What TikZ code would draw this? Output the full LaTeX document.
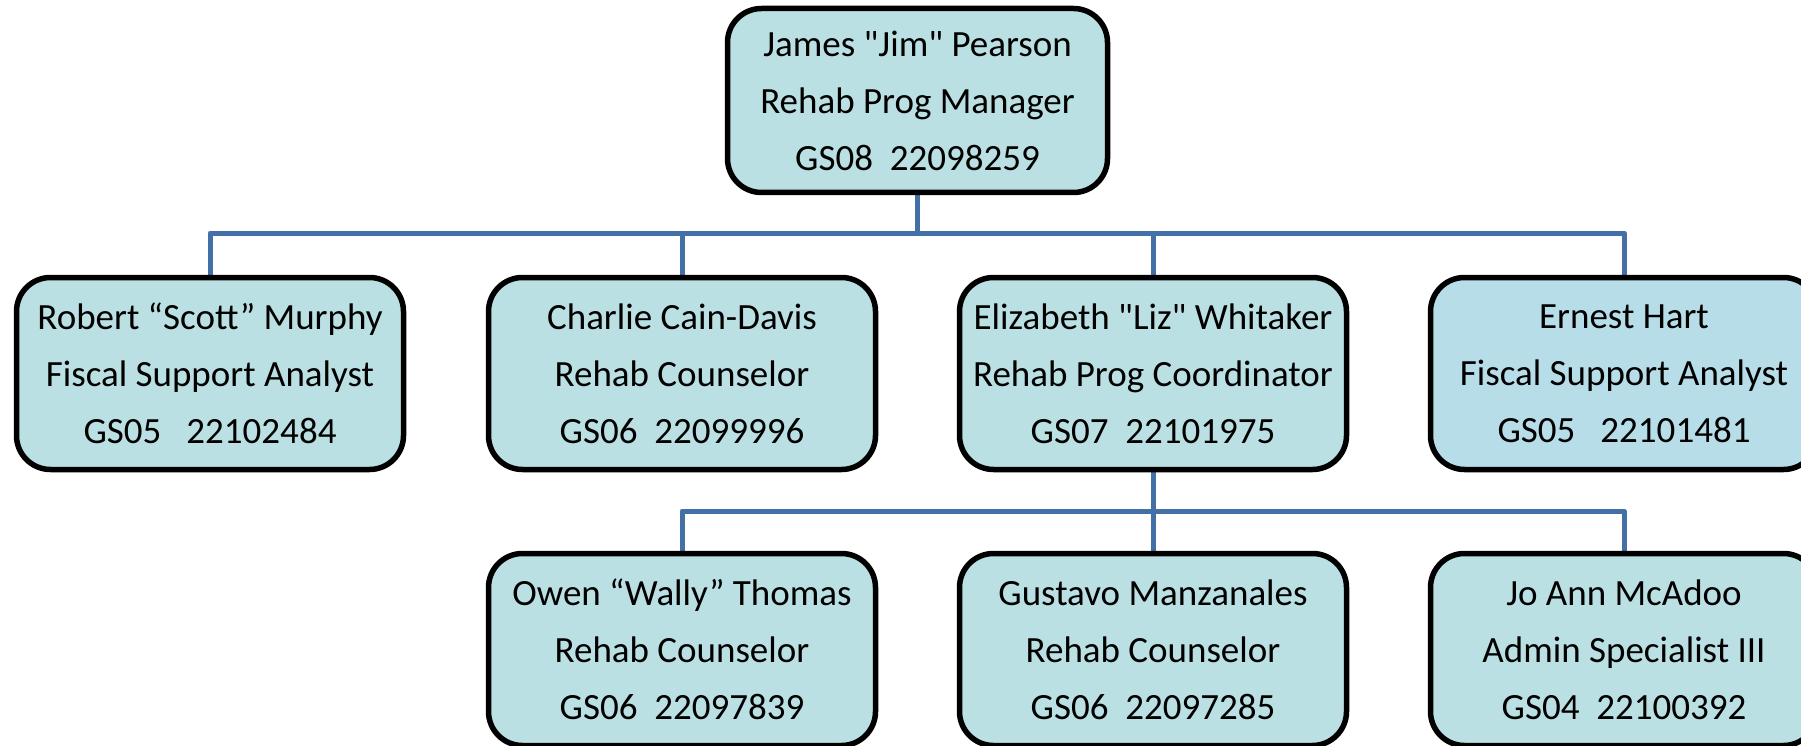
\documentclass[tikz,border=0pt]{standalone}
\usepackage{fontspec}
\setmainfont{Carlito}
\usetikzlibrary{backgrounds}
\definecolor{boxfill}{HTML}{BAE0E3}
\definecolor{boxfillb}{HTML}{B7DDE8}
\definecolor{connblue}{HTML}{4470A8}
\tikzset{
  person/.style={draw=black, line width=5.5pt, rounded corners=34pt, fill=boxfill,
    minimum width=387pt, minimum height=192pt, inner sep=0pt, align=center,
    font=\fontsize{37}{57}\selectfont},
  topperson/.style={person, minimum width=380pt, minimum height=184pt},
  conn/.style={draw=connblue, line width=5pt, line join=round}
}
\begin{document}
\begin{tikzpicture}[x=1pt, y=-1pt]
\useasboundingbox (0,0) rectangle (1801,746);
\clip (0,0) rectangle (1801,746);
\node[topperson] (jim) at (917.5,100.5) {James \textquotedbl Jim\textquotedbl{} Pearson\\Rehab Prog Manager\\GS08\ \ 22098259};
\node[person] (scott) at (210,373.5) {Robert “Scott” Murphy\\Fiscal Support Analyst\\GS05\ \ \ 22102484};
\node[person] (charlie) at (682,373.5) {Charlie Cain-Davis\\Rehab Counselor\\GS06\ \ 22099996};
\node[person] (liz) at (1153,373.5) {Elizabeth \textquotedbl Liz\textquotedbl{} Whitaker\\Rehab Prog Coordinator\\GS07\ \ 22101975};
\node[person, fill=boxfillb] (ernest) at (1624,373.5) {Ernest Hart\\Fiscal Support Analyst\\GS05\ \ \ 22101481};
\node[person] (owen) at (682,649.5) {Owen “Wally” Thomas\\Rehab Counselor\\GS06\ \ 22097839};
\node[person] (gustavo) at (1153,649.5) {Gustavo Manzanales\\Rehab Counselor\\GS06\ \ 22097285};
\node[person] (joann) at (1624,649.5) {Jo Ann McAdoo\\Admin Specialist III\\GS04\ \ 22100392};
\coordinate (bus1) at (0,233);
\coordinate (bus2) at (0,511);
\begin{pgfonlayer}{background}
\draw[conn] (jim.south) -- (jim.south |- bus1);
\draw[conn] (scott.north) |- (ernest.north |- bus1) -- (ernest.north);
\draw[conn] (charlie.north) -- (charlie.north |- bus1);
\draw[conn] (liz.north) -- (liz.north |- bus1);
\draw[conn] (liz.south) -- (liz.south |- bus2);
\draw[conn] (owen.north) |- (joann.north |- bus2) -- (joann.north);
\draw[conn] (gustavo.north) -- (gustavo.north |- bus2);
\end{pgfonlayer}
\end{tikzpicture}
\end{document}
